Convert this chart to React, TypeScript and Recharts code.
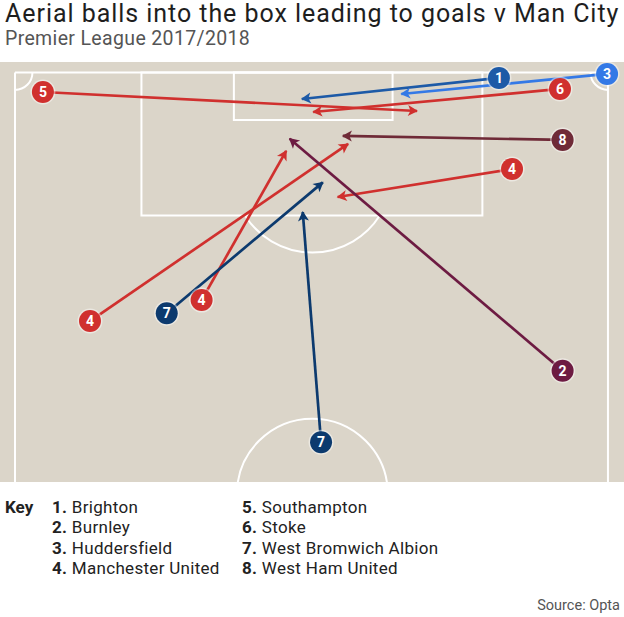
import React from 'react';
import {
  ScatterChart,
  Scatter,
  XAxis,
  YAxis,
  ReferenceLine,
  ReferenceArea,
} from 'recharts';

// pitch coordinates in metres: x across from the left touchline, y down from the goal line
const X_DOMAIN: [number, number] = [-1.72, 69.84];
const Y_DOMAIN: [number, number] = [-1.2, 46.96];
const CHART_W = 624;
const CHART_H = 420;
const PX = CHART_W / (X_DOMAIN[1] - X_DOMAIN[0]);
const PY = CHART_H / (Y_DOMAIN[1] - Y_DOMAIN[0]);

const teams = [
  'Brighton',
  'Burnley',
  'Huddersfield',
  'Manchester United',
  'Southampton',
  'Stoke',
  'West Bromwich Albion',
  'West Ham United',
];
const teamColors = [
  '#1d5aa7',
  '#6d1b42',
  '#3479e6',
  '#d0302e',
  '#d0302e',
  '#d0302e',
  '#0c3a6e',
  '#6f2a37',
];

// one entry per goal: team number, where the ball was played from and where it arrived
const ballTeam = [1, 3, 6, 5, 8, 4, 4, 4, 2, 7, 7];
const ballStartX = [55.5, 67.9, 62.5, 3.2, 62.8, 57.0, 8.6, 21.4, 62.8, 17.4, 35.1];
const ballStartY = [0.63, 0.17, 1.89, 2.24, 7.74, 11.07, 28.5, 26.1, 34.2, 27.6, 42.4];
const ballEndX = [32.9, 44.3, 34.2, 46.1, 37.6, 37.0, 38.2, 31.1, 31.5, 35.3, 33.0];
const ballEndY = [3.04, 2.47, 4.53, 4.42, 7.28, 14.28, 8.2, 9.0, 7.6, 12.6, 16.0];

// pitch markings
const PITCH_W = 68;
const PITCH_MID = 34.1;
const boxX = [14.5, 53.6];
const boxDepth = 16.4;
const sixX = [25.1, 43.3];
const sixDepth = 5.45;
const pitchArcKind = ['cornerL', 'cornerR', 'penalty', 'centre'];
const pitchArcX = [0, PITCH_W, PITCH_MID, PITCH_MID];
const pitchArcY = [0, 0, 11.5, 48.35];
const pitchArcR = [2, 2, 9.15, 8.65];

const LINE = '#ffffff';
const PITCH_BG = '#dbd5c9';

const arcData = pitchArcKind.map((kind, i) => ({
  kind,
  x: pitchArcX[i],
  y: pitchArcY[i],
  r: pitchArcR[i],
}));

const balls = ballTeam.map((team, i) => {
  const dx = (ballEndX[i] - ballStartX[i]) * PX;
  const dy = (ballEndY[i] - ballStartY[i]) * PY;
  return {
    team,
    color: teamColors[team - 1],
    start: { x: ballStartX[i], y: ballStartY[i], team },
    end: {
      x: ballEndX[i],
      y: ballEndY[i],
      angle: (Math.atan2(dy, dx) * 180) / Math.PI,
    },
  };
});

function PitchArc(props: any) {
  const { cx, cy, payload } = props;
  const r = payload.r * PX;
  let d = '';
  if (payload.kind === 'cornerL') {
    d = `M${cx + r},${cy} A${r},${r} 0 0 1 ${cx},${cy + r}`;
  } else if (payload.kind === 'cornerR') {
    d = `M${cx - r},${cy} A${r},${r} 0 0 0 ${cx},${cy + r}`;
  } else if (payload.kind === 'penalty') {
    const off = (boxDepth - payload.y) * PY;
    const half = Math.sqrt(r * r - off * off);
    d = `M${cx - half},${cy + off} A${r},${r} 0 0 0 ${cx + half},${cy + off}`;
  } else {
    return <circle cx={cx} cy={cy} r={r} fill="none" stroke={LINE} strokeWidth={2} />;
  }
  return <path d={d} fill="none" stroke={LINE} strokeWidth={2} />;
}

const NoDot = () => <g />;

function ArrowHead(props: any) {
  const { cx, cy, payload, fill } = props;
  return (
    <path
      d="M1,0 L-9,-5.5 L-6.5,0 L-9,5.5 Z"
      fill={fill}
      transform={`translate(${cx},${cy}) rotate(${payload.angle})`}
    />
  );
}

function TeamMarker(props: any) {
  const { cx, cy, payload, fill } = props;
  return (
    <g>
      <circle cx={cx} cy={cy} r={12.5} fill="rgba(255,255,255,0.45)" />
      <circle cx={cx} cy={cy} r={11} fill={fill} />
      <text
        x={cx}
        y={cy}
        dy="0.36em"
        textAnchor="middle"
        fill="#fff"
        fontSize={14}
        fontWeight={700}
        fontFamily="Roboto, sans-serif"
      >
        {payload.team}
      </text>
    </g>
  );
}

const keyCol1 = [0, 1, 2, 3];
const keyCol2 = [4, 5, 6, 7];

export default function App() {
  const font = 'Roboto, sans-serif';
  return (
    <div
      style={{
        position: 'relative',
        width: 624,
        height: 617,
        background: '#fff',
        fontFamily: font,
        color: '#222',
        overflow: 'hidden',
      }}
    >
      <style>{'body{margin:0}'}</style>
      <div
        style={{
          position: 'absolute',
          left: 5,
          top: 0,
          fontSize: 25,
          lineHeight: '28px',
          fontWeight: 400,
          letterSpacing: 0.95,
          whiteSpace: 'nowrap',
          color: '#1e1e1e',
        }}
      >
        Aerial balls into the box leading to goals v Man City
      </div>
      <div
        style={{
          position: 'absolute',
          left: 5,
          top: 28,
          fontSize: 19.5,
          lineHeight: '22.8px',
          letterSpacing: 0.35,
          color: '#555',
          whiteSpace: 'nowrap',
        }}
      >
        Premier League 2017/2018
      </div>

      <div
        style={{
          position: 'absolute',
          left: 0,
          top: 62,
          width: CHART_W,
          height: CHART_H,
          background: PITCH_BG,
          overflow: 'hidden',
        }}
      >
        <ScatterChart
          width={CHART_W}
          height={CHART_H}
          margin={{ top: 0, right: 0, bottom: 0, left: 0 }}
        >
          <XAxis type="number" dataKey="x" domain={X_DOMAIN} allowDataOverflow hide />
          <YAxis
            type="number"
            dataKey="y"
            domain={Y_DOMAIN}
            allowDataOverflow
            reversed
            hide
          />
          <ReferenceLine
            segment={[{ x: 0, y: 0 }, { x: PITCH_W, y: 0 }]}
            stroke={LINE}
            strokeWidth={2}
          />
          <ReferenceLine
            segment={[{ x: 0, y: 0 }, { x: 0, y: Y_DOMAIN[1] }]}
            stroke={LINE}
            strokeWidth={2}
          />
          <ReferenceLine
            segment={[{ x: PITCH_W, y: 0 }, { x: PITCH_W, y: Y_DOMAIN[1] }]}
            stroke={LINE}
            strokeWidth={2}
          />
          <ReferenceArea
            x1={boxX[0]}
            x2={boxX[1]}
            y1={0}
            y2={boxDepth}
            fill="none"
            stroke={LINE}
            strokeWidth={2}
          />
          <ReferenceArea
            x1={sixX[0]}
            x2={sixX[1]}
            y1={0}
            y2={sixDepth}
            fill="none"
            stroke={LINE}
            strokeWidth={2}
          />
          <Scatter data={arcData} shape={PitchArc} isAnimationActive={false} />

          {balls.map((b, i) => (
            <Scatter
              key={`line-${i}`}
              data={[b.start, b.end]}
              line={{ stroke: b.color, strokeWidth: 2.7 }}
              shape={NoDot}
              fill={b.color}
              isAnimationActive={false}
            />
          ))}
          {balls.map((b, i) => (
            <Scatter
              key={`head-${i}`}
              data={[b.end]}
              shape={ArrowHead}
              fill={b.color}
              isAnimationActive={false}
            />
          ))}
          {balls.map((b, i) => (
            <Scatter
              key={`marker-${i}`}
              data={[b.start]}
              shape={TeamMarker}
              fill={b.color}
              isAnimationActive={false}
            />
          ))}
        </ScatterChart>
      </div>

      <div
        style={{
          position: 'absolute',
          left: 5,
          top: 497,
          fontSize: 17,
          lineHeight: '20.3px',
          fontWeight: 700,
        }}
      >
        Key
      </div>
      {[keyCol1, keyCol2].map((col, c) => (
        <div
          key={c}
          style={{
            position: 'absolute',
            left: c === 0 ? 52 : 242,
            top: 497,
            fontSize: 17,
            lineHeight: '20.3px',
            letterSpacing: 0.3,
            whiteSpace: 'nowrap',
          }}
        >
          {col.map((t) => (
            <div key={t}>
              <b>{t + 1}.</b> {teams[t]}
            </div>
          ))}
        </div>
      ))}
      <div
        style={{
          position: 'absolute',
          right: 4,
          top: 597,
          fontSize: 14.5,
          lineHeight: '17px',
          color: '#555',
        }}
      >
        Source: Opta
      </div>
    </div>
  );
}
